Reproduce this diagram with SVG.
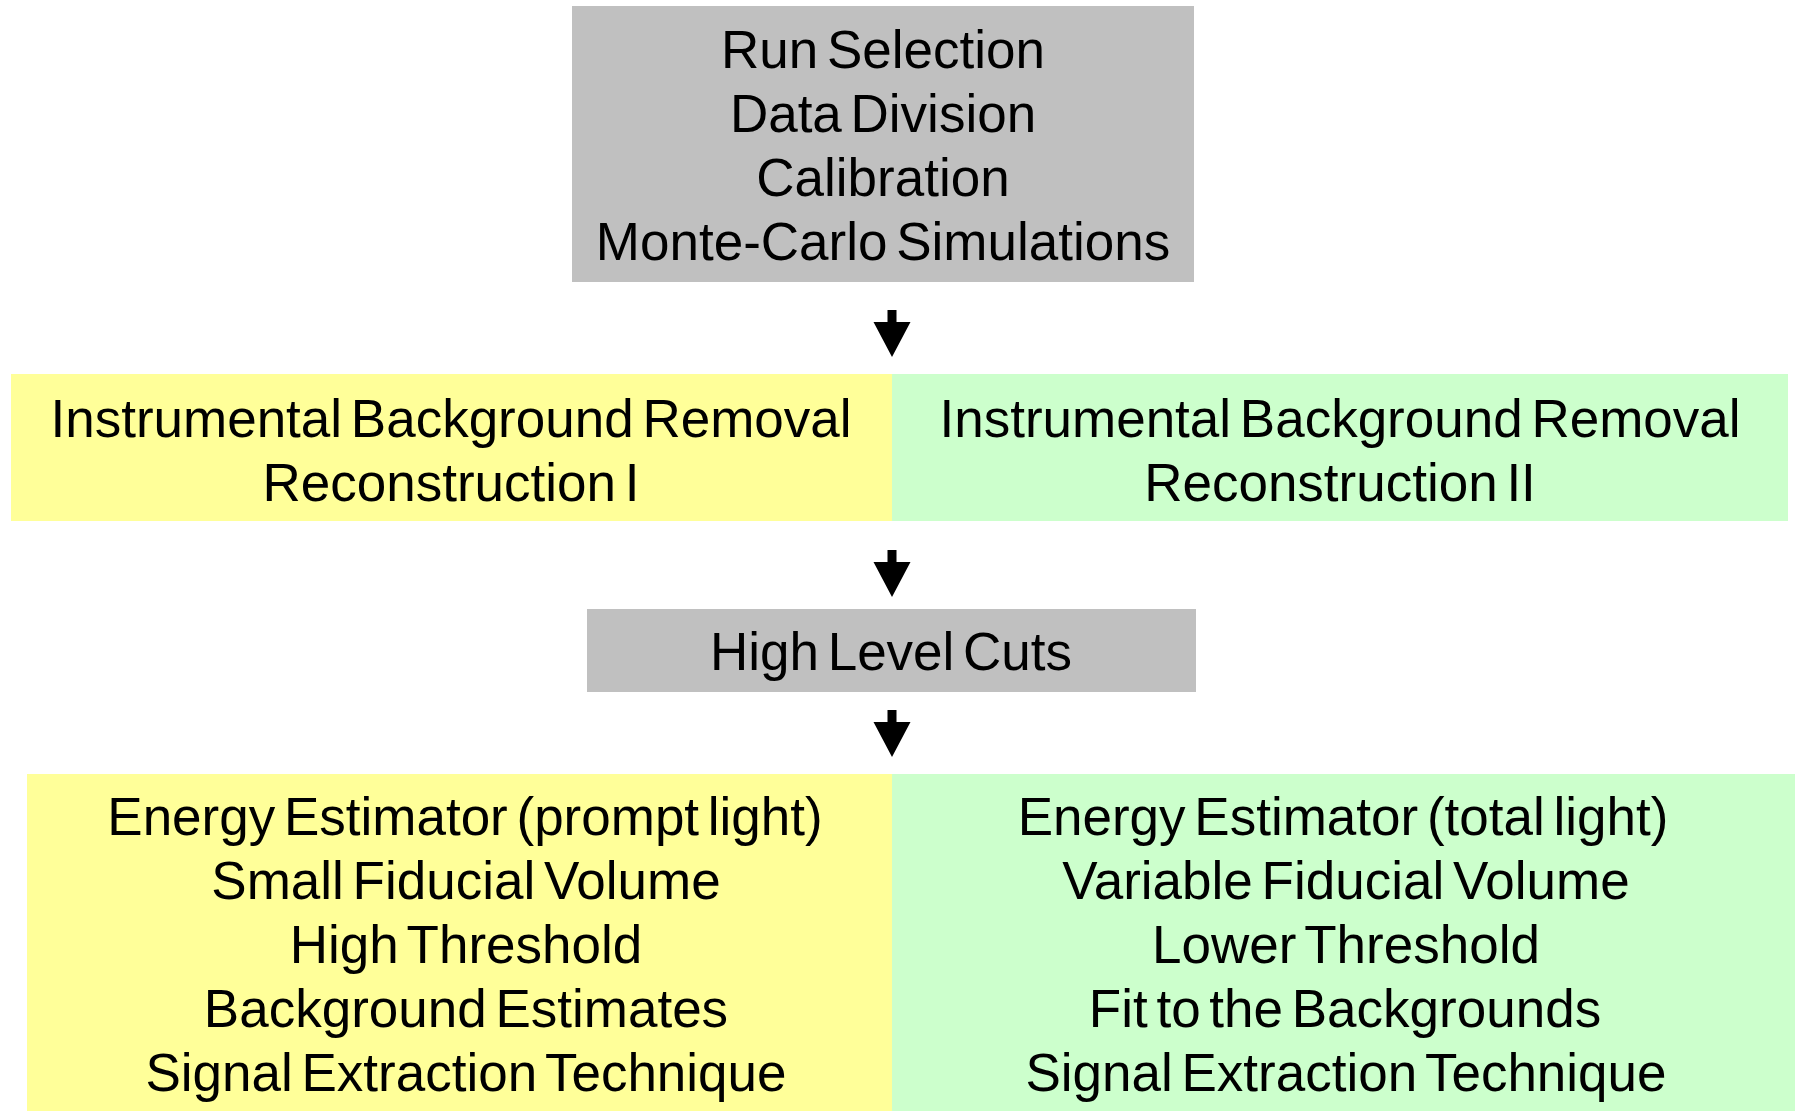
<svg xmlns="http://www.w3.org/2000/svg" width="1795" height="1111" viewBox="0 0 1795 1111">
<style>
.gray{fill:#c0c0c0}
.yel{fill:#ffff99}
.grn{fill:#ccffcc}
text{font-family:"Liberation Sans",Arial,Helvetica,sans-serif;font-size:53px;fill:#000;text-anchor:middle;word-spacing:-6px}
.arrow{fill:#000}
</style>
<defs>
<path id="arr" d="M-4.5,0 H4.5 V12 H18.5 L0,47 L-18.5,12 H-4.5 Z"/>
</defs>
<rect width="1795" height="1111" fill="#fff"/>
<g id="prep">
<rect class="gray" x="572" y="6" width="622" height="276"/>
<text x="883" y="68">Run Selection</text>
<text x="883" y="132">Data Division</text>
<text x="883" y="196">Calibration</text>
<text x="883" y="260">Monte-Carlo Simulations</text>
</g>
<g id="reco1">
<rect class="yel" x="11" y="374" width="881" height="147"/>
<text x="451" y="437">Instrumental Background Removal</text>
<text x="451" y="501">Reconstruction I</text>
</g>
<g id="reco2">
<rect class="grn" x="892" y="374" width="896" height="147"/>
<text x="1340" y="437">Instrumental Background Removal</text>
<text x="1340" y="501">Reconstruction II</text>
</g>
<g id="cuts">
<rect class="gray" x="587" y="609" width="609" height="83"/>
<text x="891" y="670">High Level Cuts</text>
</g>
<g id="analysis1">
<rect class="yel" x="27" y="774" width="865" height="337"/>
<text x="465" y="835">Energy Estimator (prompt light)</text>
<text x="466" y="899">Small Fiducial Volume</text>
<text x="466" y="963">High Threshold</text>
<text x="466" y="1027">Background Estimates</text>
<text x="466" y="1091">Signal Extraction Technique</text>
</g>
<g id="analysis2">
<rect class="grn" x="892" y="774" width="903" height="337"/>
<text x="1343" y="835">Energy Estimator (total light)</text>
<text x="1346" y="899">Variable Fiducial Volume</text>
<text x="1346" y="963">Lower Threshold</text>
<text x="1345" y="1027">Fit to the Backgrounds</text>
<text x="1346" y="1091">Signal Extraction Technique</text>
</g>
<g id="connectors" class="arrow">
<use href="#arr" x="892" y="310"/>
<use href="#arr" x="892" y="550"/>
<use href="#arr" x="892" y="710"/>
</g>
</svg>
